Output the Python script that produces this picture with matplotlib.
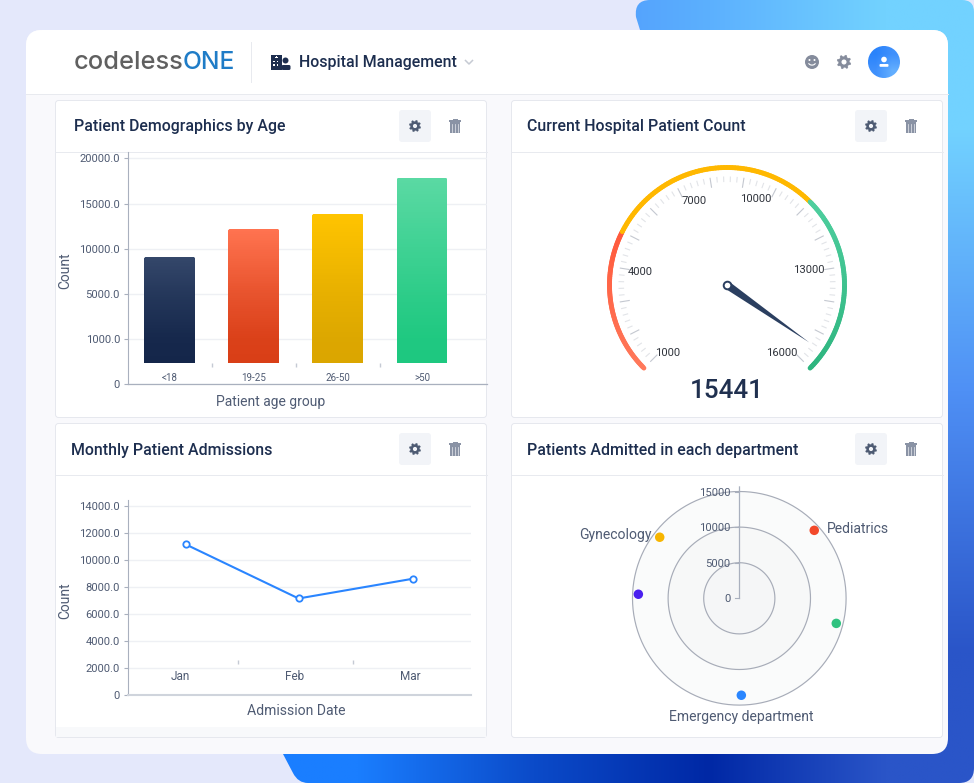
import numpy as np
import matplotlib
matplotlib.use("Agg")
import matplotlib.pyplot as plt
from matplotlib.colors import LinearSegmentedColormap, to_rgb
from matplotlib.patches import FancyBboxPatch, Circle, Polygon, Rectangle, PathPatch
from matplotlib.path import Path
from matplotlib.transforms import IdentityTransform
from matplotlib.lines import Line2D

# ------------------ data ------------------
age_groups = ["<18", "19-25", "26-50", ">50"]
age_counts = [9100, 12200, 13900, 17850]
age_bar_base = 467
age_ticks = [0, 1000, 5000, 10000, 15000, 20000]
age_tick_labels = ["0", "1000.0", "5000.0", "10000.0", "15000.0", "20000.0"]

months = ["Jan", "Feb", "Mar"]
month_point_pos = [0.049, 1.031, 2.03]
admissions = [11160, 7150, 8620]
admission_ticks = [0, 2000, 4000, 6000, 8000, 10000, 12000, 14000]
admission_tick_labels = ["0", "2000.0", "4000.0", "6000.0", "8000.0", "10000.0", "12000.0", "14000.0"]

gauge_value = 15441
gauge_min, gauge_max = 1000, 16000
gauge_labels = [1000, 4000, 7000, 10000, 13000, 16000]
gauge_bands = [(1000, 5000), (5000, 11000), (11000, 16000)]

dept_names = ["Pediatrics", "", "Emergency department", "", "Gynecology"]
dept_angles = [47.8, 104.5, 178.8, 272.3, 307.5]
dept_values = [14210, 14070, 13620, 14190, 14090]
radial_ticks = [0, 5000, 10000, 15000]

# ------------------ setup ------------------
W, H = 974, 783
plt.rcParams["font.family"] = ["Roboto", "DejaVu Sans"]
fig = plt.figure(figsize=(W / 100, H / 100), dpi=100, facecolor="#e4e8fb")
PT = 0.72
INK = "#1d2e4f"
MUTED = "#4f5b73"
AXC = "#a9b0be"
GRID = "#eef0f4"


def axpx(l, t, r, b, **kw):
    a = fig.add_axes([l / W, 1 - b / H, (r - l) / W, (b - t) / H], **kw)
    a.patch.set_alpha(0)
    return a


bg = axpx(0, 0, W, H)
bg.set_xlim(0, W)
bg.set_ylim(H, 0)
bg.set_axis_off()

# blue backdrop shape
M, L, C, Q = Path.MOVETO, Path.LINETO, Path.CURVE3, Path.CLOSEPOLY
verts = [(650, 0), (962, 0), (974, 0), (974, 12), (974, 768), (974, 783), (959, 783),
         (308, 783), (298, 783), (293, 773), (283, 754), (640, 30), (636, 17), (634, 0), (650, 0), (650, 0)]
codes = [M, L, C, C, L, C, C, L, C, C, L, L, L, C, C, Q]
shape = PathPatch(Path(verts, codes), fc="none", ec="none", transform=bg.transData)
bg.add_patch(shape)
hexgrid = [["#2a7dfb", "#4a93fc", "#5cb0fe", "#72d2ff"],
           ["#1f6ff0", "#3a7fe8", "#4a90f0", "#4f90f5"],
           ["#1a7eff", "#0b4bc9", "#0028a5", "#2a55c8"]]
grad = np.array([[to_rgb(c) for c in row] for row in hexgrid])
im = bg.imshow(grad, extent=(270, 974, 783, 0), interpolation="bilinear", aspect="auto", zorder=1)
im.set_clip_path(shape)
bg.set_xlim(0, W)
bg.set_ylim(H, 0)


def rrect(x0, y0, x1, y1, r, fc, ec="none", lw=0, z=2):
    p = FancyBboxPatch((x0 + r, y0 + r), x1 - x0 - 2 * r, y1 - y0 - 2 * r,
                       boxstyle=f"round,pad={r},rounding_size={r}", fc=fc, ec=ec, lw=lw, zorder=z)
    bg.add_patch(p)
    return p


# main card
rrect(26, 30, 948, 754, 16, "#f9f9fc", z=2)
head = Rectangle((26, 30), 922, 63.5, fc="white", ec="none", zorder=2.1)
bg.add_patch(head)
head.set_clip_path(FancyBboxPatch((42, 46), 890, 692, boxstyle="round,pad=16,rounding_size=16", transform=bg.transData))
bg.plot([26, 948], [93.5, 93.5], color="#e8eaef", lw=0.72, zorder=2.2)
bg.plot([250.5, 250.5], [42, 82], color="#e8eaef", lw=0.72, zorder=2.2)

# panels
panels = [(55.5, 100.5, 486.5, 417.5, 151.5), (511.5, 100.5, 942.5, 417.5, 151.5),
          (55.5, 423.5, 486.5, 737.5, 474.5), (511.5, 423.5, 942.5, 737.5, 474.5)]
titles = ["Patient Demographics by Age", "Current Hospital Patient Count",
          "Monthly Patient Admissions", "Patients Admitted in each department"]
title_x = [74, 527, 71, 527]
title_dy = [26, 26, 26.5, 26.5]
for (x0, y0, x1, y1, ys), t, tx, dy in zip(panels, titles, title_x, title_dy):
    rrect(x0, y0, x1, y1, 3, "white", ec="#e6e8ee", lw=0.72, z=3)
    bg.plot([x0, x1], [ys, ys], color="#e8eaef", lw=0.72, zorder=3.1)
    bg.text(tx, y0 + dy, t, fontsize=15.93 * PT, color=INK, weight=500, va="center", ha="left", zorder=4)
bg.add_patch(Rectangle((56, 727), 430, 10, fc="#f8f9fb", ec="none", zorder=3.2))


def gear(cx, cy, R, col, hole):
    n = 8
    ang = np.linspace(0, 2 * np.pi, n * 4, endpoint=False) + np.pi / 8 - np.pi / 16
    rad = np.tile([R, R, R * 0.76, R * 0.76], n)
    bg.add_patch(Polygon(np.c_[cx + rad * np.cos(ang), cy + rad * np.sin(ang)], fc=col, ec=col, lw=0.3, zorder=5))
    bg.add_patch(Circle((cx, cy), R * 0.36, fc=hole, ec="none", zorder=5.1))


def trash(cx, cy, col):
    bg.add_patch(Rectangle((cx - 5.3, cy - 3.8), 10.6, 10.8, fc=col, ec="none", zorder=5))
    bg.add_patch(Rectangle((cx - 5.8, cy - 5.6), 11.6, 1.3, fc=col, ec="none", zorder=5))
    bg.add_patch(Rectangle((cx - 2.5, cy - 7), 5, 1.8, fc=col, ec="none", zorder=5))
    for dx in (-2.6, 0, 2.6):
        bg.plot([cx + dx, cx + dx], [cy - 2, cy + 5.5], color="#dfe2e8", lw=0.55, zorder=5.1)


for bx, by in [(399, 110), (855, 110), (399, 433), (855, 433)]:
    rrect(bx, by, bx + 32, by + 32, 3, "#f2f4f8", z=4)
    gear(bx + 16, by + 16, 5.8, "#4e5b73", "#f2f4f8")
    trash(bx + 56, by + 16, "#8a93a5")

# header: logo
bg.text(74, 62.5, "codeless", fontsize=25.4 * PT, color="#606060", family=["Inter", "DejaVu Sans"],
        weight=500, va="center", ha="left", zorder=5)
bg.text(183, 62.5, "ONE", fontsize=24.6 * PT, color="#1f7cc7", family=["Inter", "DejaVu Sans"],
        weight=500, va="center", ha="left", zorder=5)
bg.text(299, 62, "Hospital Management", fontsize=15.93 * PT, color=INK, weight=500, va="center", ha="left", zorder=5)
bg.plot([465.5, 469, 472.5], [60.5, 64, 60.5], color="#c6cad3", lw=1.1, zorder=5)
# hospital icon
bg.add_patch(Rectangle((270.5, 54.5), 11.5, 15.5, fc=INK, ec="none", zorder=5))
bg.add_patch(Rectangle((275, 56.5), 2.6, 1.0, fc="white", ec="none", zorder=5.1))
bg.add_patch(Rectangle((275.8, 55.7), 1.0, 2.6, fc="white", ec="none", zorder=5.1))
for wx in (273, 276.5):
    for wy in (60.5, 64):
        bg.add_patch(Rectangle((wx, wy), 1.6, 1.6, fc="white", ec="none", zorder=5.1))
bg.add_patch(Circle((285.5, 60.5), 3, fc=INK, ec="none", zorder=5))
bg.add_patch(FancyBboxPatch((282.5, 66), 7, 3, boxstyle="round,pad=1,rounding_size=1.5", fc=INK, ec="none", zorder=5))
# smiley
bg.add_patch(Circle((812, 62), 7, fc="#858c9c", ec="none", zorder=5))
bg.add_patch(Circle((809.5, 60), 1, fc="white", ec="none", zorder=5.1))
bg.add_patch(Circle((814.5, 60), 1, fc="white", ec="none", zorder=5.1))
sm = np.linspace(0.15, 0.85, 20) * np.pi
bg.plot(812 + 3.5 * np.cos(sm), 62.5 + 2.6 * np.sin(sm), color="white", lw=0.8, zorder=5.1)
gear(844, 62, 7, "#858c9c", "white")
# avatar
circ = Circle((884, 62), 16, transform=bg.transData, fc="none", ec="none")
bg.add_patch(circ)
av = np.array([[to_rgb("#2a83fb"), to_rgb("#3f90fc")], [to_rgb("#3f90fc"), to_rgb("#62aeff")]])
avim = bg.imshow(av, extent=(868, 900, 78, 46), interpolation="bilinear", aspect="auto", zorder=5)
avim.set_clip_path(circ)
bg.set_xlim(0, W)
bg.set_ylim(H, 0)
bg.add_patch(Circle((884, 59.5), 2.8, fc="white", ec="none", zorder=6))
bg.add_patch(FancyBboxPatch((880.5, 65), 7, 0.8, boxstyle="round,pad=1,rounding_size=1", fc="white", ec="none", zorder=6))


def style_cart(a, fs=11.2):
    for s in ("top", "right"):
        a.spines[s].set_visible(False)
    a.spines["left"].set_color(AXC)
    a.spines["left"].set_linewidth(0.8)
    a.tick_params(axis="y", length=4 * PT, width=0.8, color=AXC, pad=4 * PT, labelsize=fs * PT, labelcolor=MUTED)
    a.set_axisbelow(True)
    a.grid(axis="y", color=GRID, lw=1.0)
    a.grid(axis="x", visible=False)


# ------------------ bar chart ------------------
anchor_v = np.array([0, 1000, 5000, 10000, 15000, 20000, 25000], float)
anchor_p = np.arange(7, dtype=float)


def fwd(v):
    return np.interp(v, anchor_v, anchor_p)


def inv(p):
    return np.interp(p, anchor_p, anchor_v)


ax1 = axpx(128, 152, 487, 384, zorder=6)
ax1.set_yscale("function", functions=(fwd, inv))
ax1.set_ylim(0, 20720)
ax1.set_xlim(-0.494, 3.772)
style_cart(ax1)
ax1.set_yticks(age_ticks, age_tick_labels)
ax1.yaxis.set_minor_locator(matplotlib.ticker.NullLocator())
ax1.set_xticks(range(4), age_groups)
ax1.tick_params(axis="x", length=0, pad=-11 * PT, labelsize=9.8 * PT, labelcolor=MUTED)
ax1.spines["bottom"].set_color(AXC)
ax1.spines["bottom"].set_linewidth(0.9)
bar_cols = [("#34476a", "#14264a"), ("#ff7350", "#d93f17"), ("#ffc400", "#dba600"), ("#5ad9a3", "#1ec880")]
xpos = np.arange(4)
bw = 51 / 84.3
bars = ax1.bar(xpos, np.array(age_counts) - age_bar_base, bottom=age_bar_base, width=bw,
               color=[c[0] for c in bar_cols], zorder=3)
fig.canvas.draw()
for b, v, (ct, cb), x in zip(bars, age_counts, bar_cols, xpos):
    (px0, py0), (px1, py1) = ax1.transData.transform([(x - bw / 2, age_bar_base), (x + bw / 2, v)])
    r = 2.5
    clip = FancyBboxPatch((px0 + r, py0 - 20), px1 - px0 - 2 * r, py1 - py0 + 20 - r,
                          boxstyle=f"round,pad={r},rounding_size={r}", transform=IdentityTransform())
    b.set_clip_path(clip)
    cm = LinearSegmentedColormap.from_list("g", [cb, ct])
    ys = np.linspace(age_bar_base, v, 60)
    mesh = ax1.pcolormesh([x - bw / 2, x + bw / 2], ys, np.linspace(0, 1, 59)[:, None], cmap=cm,
                          shading="flat", zorder=3.1, rasterized=True)
    mesh.set_clip_path(clip)
ax1.vlines(xpos[:-1] + 0.5, 378, 467, color="#c5cad4", lw=1, zorder=2)
ax1.set_xlabel("Patient age group", fontsize=13.9 * PT, color=MUTED)
ax1.set_ylabel("Count", fontsize=13.9 * PT, color=MUTED)
ax1.xaxis.set_label_coords(271 / W, 1 - 402 / H, transform=fig.transFigure)
ax1.yaxis.set_label_coords(65 / W, 1 - 271 / H, transform=fig.transFigure)
ax1.xaxis.label.set_va("center")
ax1.yaxis.label.set_va("center")

# ------------------ line chart ------------------
ax3 = axpx(128, 500, 471, 695, zorder=6)
ax3.set_ylim(0, 195 / 27 * 2000)
ax3.set_xlim(-0.452, 2.53)
style_cart(ax3)
ax3.set_yticks(admission_ticks, admission_tick_labels)
ax3.set_xticks(range(3), months)
ax3.tick_params(axis="x", length=0, pad=-24.5 * PT, labelsize=11.8 * PT, labelcolor=MUTED)
ax3.spines["bottom"].set_color("#cfd4dc")
ax3.spines["bottom"].set_linewidth(1.5)
ax3.plot(month_point_pos, admissions, color="#2a85ff", lw=1.5, marker="o", ms=4.6, mfc="white",
         mec="#2a85ff", mew=1.3, zorder=4)
ax3.vlines([0.5, 1.5], 2330, 2600, color="#c5cad4", lw=1, zorder=2)
ax3.set_xlabel("Admission Date", fontsize=14 * PT, color=MUTED)
ax3.set_ylabel("Count", fontsize=13.9 * PT, color=MUTED)
ax3.xaxis.set_label_coords(296.5 / W, 1 - 711 / H, transform=fig.transFigure)
ax3.yaxis.set_label_coords(65 / W, 1 - 601 / H, transform=fig.transFigure)
ax3.xaxis.label.set_va("center")
ax3.yaxis.label.set_va("center")

# ------------------ gauge ------------------
gc = (727, 285)
gR = 125
ax2 = fig.add_axes([(gc[0] - gR) / W, 1 - (gc[1] + gR) / H, 2 * gR / W, 2 * gR / H],
                   projection="polar", zorder=6)
ax2.set_theta_offset(np.radians(225))
ax2.set_theta_direction(-1)
ax2.set_thetalim(0, 2 * np.pi)
ax2.set_rlim(0, gR)
ax2.set_axis_off()


def th(v):
    return np.radians((np.asarray(v, float) - gauge_min) * 270 / (gauge_max - gauge_min))


band_stops = [("#ff7a5c", "#ff5a3c"), ("#ffb800", "#ffb800"), ("#4fcf9f", "#2eb57f")]
for (a, b), (c0, c1) in zip(gauge_bands, band_stops):
    vs = np.linspace(a, b, 80)
    cm = LinearSegmentedColormap.from_list("b", [c0, c1])
    for i in range(len(vs) - 1):
        ax2.plot(th(vs[i:i + 2]), [117.5, 117.5], color=cm(i / 78), lw=3.5, solid_capstyle="round", zorder=2)
for v in np.arange(gauge_min, gauge_max + 1, 200):
    major = (v - gauge_min) % 1000 == 0
    ax2.plot([th(v), th(v)], [99 if major else 103.5, 108], color="#c4c8d0" if major else "#e2e4e8",
             lw=0.8, zorder=1)
label_off = [(11, 2), (11.3, -2.5), (12.5, -4.2), (-16, -2), (-16, 0), (-15, 2)]
for v, off in zip(gauge_labels, label_off):
    ax2.annotate(str(v), (th(v), 99), xytext=off, textcoords="offset pixels", ha="center", va="center",
                 fontsize=11.2 * PT, color="#30343c")
a = th(gauge_value)
nb = np.radians(90)
needle_t = [a, a + nb, a - nb]
needle_r = [100.3, 4, 4]
ax2.fill(needle_t, needle_r, color="#2b3f60", lw=0, zorder=3)
ax2.scatter([0], [0], s=(7.6 * PT) ** 2, facecolor="white", edgecolor="#2b3f60", linewidth=1.4, zorder=4)
ax2.annotate(str(gauge_value), (0, 0), xytext=(0, -106), textcoords="offset pixels", ha="center", va="center",
             fontsize=26 * PT, weight=500, color="#20304f")

# ------------------ radial ------------------
rc = (739.3, 598.3)
rpx = 112.0
per = 35.6 / 5000
ax4 = fig.add_axes([(rc[0] - rpx) / W, 1 - (rc[1] + rpx) / H, 2 * rpx / W, 2 * rpx / H],
                   projection="polar", zorder=6)
ax4.set_theta_zero_location("N")
ax4.set_theta_direction(-1)
ax4.set_rlim(0, rpx / per)
ax4.set_axis_off()
circle_t = np.linspace(0, 2 * np.pi, 361)
for v, fc, z in zip([15000, 10000, 5000], ["#fafbfb", "#f7f8f8", "#f5f6f7"], [1, 1.1, 1.2]):
    ax4.fill(circle_t, np.full(361, v), color=fc, lw=0, zorder=z)
    ax4.plot(circle_t, np.full(361, v), color="#a7acb8", lw=0.85, zorder=z + 0.01)
ax4.plot([0, 0], [0, rpx / per], color=AXC, lw=0.9, zorder=2)
fig.canvas.draw()
for v in radial_ticks:
    (qx, qy) = ax4.transData.transform((0, v))
    fig.add_artist(Line2D([qx - 4.5, qx], [qy, qy], color=AXC, lw=0.8, transform=IdentityTransform(), zorder=7))
    ax4.annotate(str(v), (0, v), xytext=(-9, -1), textcoords="offset pixels", ha="right", va="center",
                 fontsize=11.2 * PT, color=MUTED, zorder=8)
dept_cols = ["#f2492a", "#2fc27f", "#2a86ff", "#4a1fef", "#f7b500"]
ax4.scatter(np.radians(dept_angles), dept_values, s=(9.5 * PT) ** 2, c=dept_cols, edgecolor="none", zorder=5)
name_off = {"Pediatrics": (44, 1, "center"), "Emergency department": (-0.5, -22, "center"),
            "Gynecology": (-44, 2.5, "center")}
for n, ang, v in zip(dept_names, dept_angles, dept_values):
    if n:
        dx, dy, ha = name_off[n]
        ax4.annotate(n, (np.radians(ang), v), xytext=(dx, dy), textcoords="offset pixels", ha=ha, va="center",
                     fontsize=14 * PT, color=MUTED, annotation_clip=False)

fig.savefig("out.png", dpi=100, facecolor=fig.get_facecolor())
